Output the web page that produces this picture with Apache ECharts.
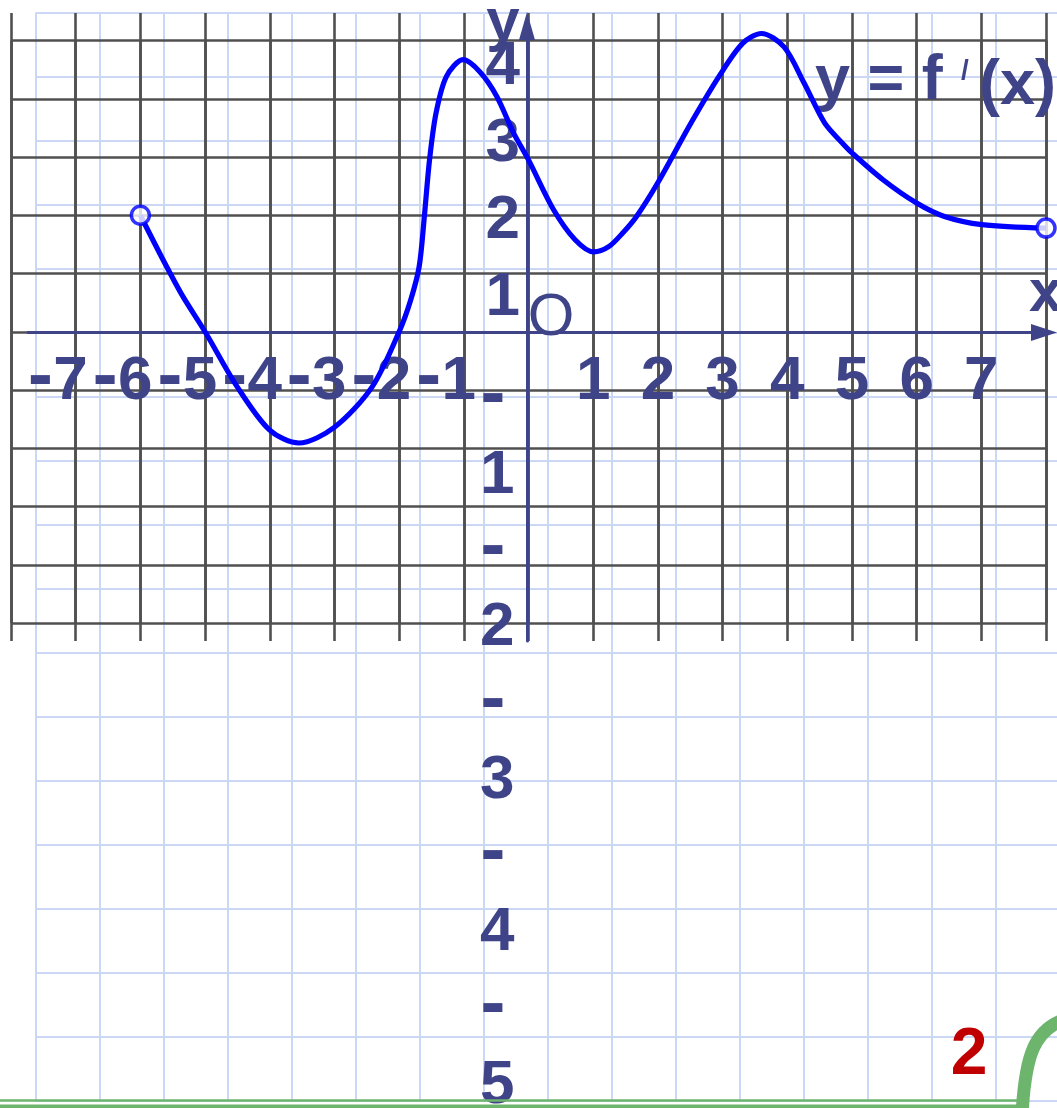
<!DOCTYPE html>
<html><head><meta charset="utf-8">
<script src="https://cdn.jsdelivr.net/npm/echarts@6/dist/echarts.min.js"></script>
<style>html,body{margin:0;padding:0;background:#fff;}#c{width:1057px;height:1108px;}</style>
</head><body><div id="c"></div>
<script>
// curve y = f'(x)
const curveX = [-6, -5.67, -5.35, -5, -4.5, -4, -3.55, -3, -2.42, -2, -1.82, -1.69, -1.61, -1.53, -1.43, -1.27, -1.01, -0.75, -0.49, -0.23, 0, 0.39, 0.72, 1.01, 1.24, 1.46, 1.67, 2.01, 2.51, 2.96, 3.31, 3.6, 3.95, 4.26, 4.58, 4.85, 5.0, 5.48, 6.0, 6.43, 7.01, 8.0];
const curveY = [2, 1.28, 0.62, 0, -0.95, -1.69, -1.91, -1.64, -0.95, 0, 0.55, 1.12, 1.98, 2.95, 3.75, 4.38, 4.67, 4.46, 4.04, 3.41, 2.95, 2.09, 1.58, 1.37, 1.46, 1.70, 1.98, 2.58, 3.58, 4.41, 4.95, 5.12, 4.89, 4.27, 3.58, 3.24, 3.07, 2.61, 2.21, 1.98, 1.84, 1.78];
// open end points
const endX = [-6, 8];
const endY = [2, 1.78];
// axis ranges
const xRange = [-8, 8];
const yRange = [-5, 5];
const yPosLabelRange = [0, 4];
const yNegLabelRange = [-5, -1];

const FONT = 'Liberation Sans, Arial, sans-serif';
const DASHFONT = 'DejaVu Sans, Liberation Sans, sans-serif';
const FS = 62;
const INK = '#3f4489';
const DARK = '#505050';
const LIGHT = '#cad8f6';
const GREEN = '#6db56d';

function ax(extra) {
  return Object.assign({type: 'value', axisLine: {show: false}, axisTick: {show: false},
    axisLabel: {show: false}, splitLine: {show: false}}, extra);
}
const g = (o) => Object.assign({containLabel: false, outerBoundsMode: 'none'}, o);
const tok = (extra) => Object.assign({fontSize: FS, fontWeight: 'bold', fontFamily: FONT, color: INK}, extra);

const chart = echarts.init(document.getElementById('c'));
chart.setOption({
  animation: false,
  grid: [
    g({left: 11, right: 11, top: 40.5, bottom: 485}),     // 0 main
    g({left: 11, right: 11, top: 13, bottom: 467}),       // 1 vertical grid extension
    g({left: 35.5, right: -2.5, top: 12.7, bottom: 7.3}), // 2 paper grid
    g({left: 28, right: 13, top: 300, bottom: 775.5}),    // 3 x axis line
    g({left: 11, right: 11, top: 300, bottom: 776}),      // 4 x labels
    g({left: 527, right: 520, top: 26, bottom: 467}),     // 5 y axis line
    g({left: 527, right: 520, top: 66.5, bottom: 732.3}), // 6 y positive labels
    g({left: 527, right: 520, top: 437.5, bottom: 60.5})  // 7 y negative labels
  ],
  xAxis: [
    ax({gridIndex: 0, min: xRange[0], max: xRange[1], interval: 1, z: 1,
        splitLine: {show: true, lineStyle: {color: DARK, width: 2.6}}}),
    ax({gridIndex: 1, min: xRange[0], max: xRange[1], interval: 1, z: 1,
        splitLine: {show: true, lineStyle: {color: DARK, width: 2.6}}}),
    ax({gridIndex: 2, min: 0, max: 1024, interval: 64, z: 0,
        splitLine: {show: true, lineStyle: {color: LIGHT, width: 2}}}),
    ax({gridIndex: 3, min: 0, max: 1, z: 3,
        axisLine: {show: true, onZero: false, symbol: ['none', 'triangle'], symbolSize: [17, 26],
          lineStyle: {color: INK, width: 3}}}),
    ax({gridIndex: 4, min: xRange[0], max: xRange[1], interval: 1, z: 3,
        axisLabel: {show: true, margin: 19, color: INK, fontSize: FS, fontWeight: 'bold', fontFamily: FONT,
          formatter: function (v) {
            if (v === 0 || Math.abs(v) === 8) return '';
            return v < 0 ? '{d|-}{n|' + Math.abs(v) + '}' : '{p|' + v + '}';
          },
          rich: {d: tok({fontFamily: DASHFONT}), n: tok({padding: [0, 36, 0, 0]}), p: tok({})}}}),
    ax({gridIndex: 5, min: 0, max: 1}),
    ax({gridIndex: 6, min: 0, max: 1}),
    ax({gridIndex: 7, min: 0, max: 1})
  ],
  yAxis: [
    ax({gridIndex: 0, min: yRange[0], max: yRange[1], interval: 1, z: 1,
        splitLine: {show: true, lineStyle: {color: DARK, width: 2.6}}}),
    ax({gridIndex: 1, min: 0, max: 1}),
    ax({gridIndex: 2, min: 0, max: 1088, interval: 64, z: 0,
        splitLine: {show: true, lineStyle: {color: LIGHT, width: 2}}}),
    ax({gridIndex: 3, min: 0, max: 1}),
    ax({gridIndex: 4, min: 0, max: 1}),
    ax({gridIndex: 5, min: 0, max: 1, z: 3,
        axisLine: {show: true, onZero: false, symbol: ['none', 'triangle'], symbolSize: [16, 28],
          lineStyle: {color: INK, width: 3}}}),
    ax({gridIndex: 6, min: yPosLabelRange[0], max: yPosLabelRange[1], interval: 1, z: 3,
        axisLabel: {show: true, margin: 7, color: INK, fontSize: FS, fontWeight: 'bold', fontFamily: FONT,
          formatter: function (v) { return v === 0 ? '' : String(v); }}}),
    ax({gridIndex: 7, min: yNegLabelRange[0], max: yNegLabelRange[1], interval: 1, z: 3,
        axisLabel: {show: true, margin: 47, align: 'left', color: INK, fontSize: FS,
          fontWeight: 'bold', fontFamily: FONT,
          formatter: function (v) { return '{d|-}\n{n|' + Math.abs(v) + '}'; },
          rich: {d: tok({fontFamily: DASHFONT, lineHeight: 76}), n: tok({lineHeight: 76})}}})
  ],
  series: [
    {type: 'line', xAxisIndex: 0, yAxisIndex: 0, data: curveX.map((x, i) => [x, curveY[i]]),
      smooth: 0.3, symbol: 'none', clip: false, silent: true, z: 6,
      lineStyle: {color: '#0000ff', width: 5.2}},
    {type: 'scatter', xAxisIndex: 0, yAxisIndex: 0, data: endX.map((x, i) => [x, endY[i]]),
      symbol: 'circle', symbolSize: 18, clip: false, silent: true, z: 7,
      itemStyle: {color: '#ffffff', borderColor: '#0000ff', borderWidth: 3.5}}
  ],
  graphic: {elements: [
    {type: 'text', x: 503, y: 23, z: 5, style: {text: 'y', fill: INK, fontSize: 60, fontWeight: 'bold', fontFamily: FONT, align: 'center', verticalAlign: 'middle'}},
    {type: 'text', x: 1029, y: 294, z: 5, style: {text: 'x', fill: INK, fontSize: 60, fontWeight: 'bold', fontFamily: FONT, align: 'left', verticalAlign: 'middle'}},
    {type: 'text', x: 551, y: 318, z: 5, style: {text: 'O', fill: INK, fontSize: 60, fontFamily: FONT, align: 'center', verticalAlign: 'middle'}},
    {type: 'text', x: 815, y: 82, z: 5, style: {text: 'y = f', fill: INK, fontSize: 63, fontWeight: 'bold', fontFamily: FONT, align: 'left', verticalAlign: 'middle'}},
    {type: 'text', x: 961, y: 71, z: 5, style: {text: '/', fill: INK, fontSize: 28, fontWeight: 'bold', fontFamily: FONT, align: 'left', verticalAlign: 'middle'}},
    {type: 'text', x: 979, y: 87, z: 5, style: {text: '(x)', fill: INK, fontSize: 63, fontWeight: 'bold', fontFamily: FONT, align: 'left', verticalAlign: 'middle'}},
    {type: 'text', x: 969, y: 1056, z: 5, style: {text: '2', fill: '#c00000', fontSize: 66, fontWeight: 'bold', fontFamily: FONT, align: 'center', verticalAlign: 'middle'}},
    {type: 'line', z: 5, shape: {x1: 0, y1: 1100.5, x2: 1022, y2: 1100.5}, style: {stroke: GREEN, lineWidth: 2.5}},
    {type: 'line', z: 5, shape: {x1: 0, y1: 1106.5, x2: 1022, y2: 1106.5}, style: {stroke: GREEN, lineWidth: 4}},
    {type: 'bezierCurve', z: 5, shape: {x1: 1022, y1: 1115, cpx1: 1025, cpy1: 1058, cpx2: 1033, cpy2: 1027, x2: 1070, y2: 1018},
      style: {stroke: GREEN, lineWidth: 13, fill: null}}
  ]}
});
</script>
</body></html>
